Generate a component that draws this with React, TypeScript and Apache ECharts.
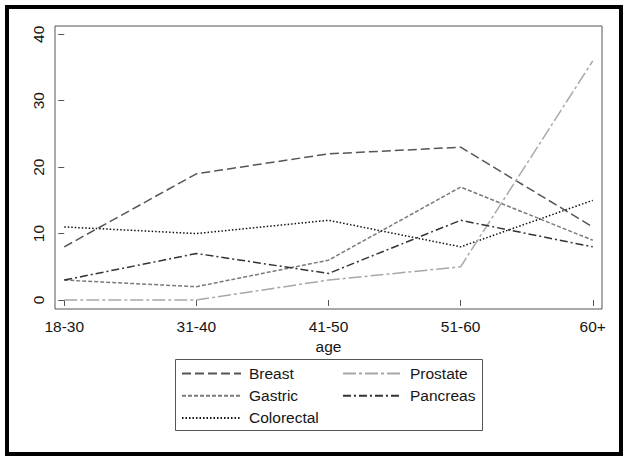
import React, { useEffect, useRef } from "react";
import * as echarts from "echarts";

const categories = ["18-30", "31-40", "41-50", "51-60", "60+"];
const breast = [8, 19, 22, 23, 11];
const gastric = [3, 2, 6, 17, 9];
const colorectal = [11, 10, 12, 8, 15];
const prostate = [0, 0, 3, 5, 36];
const pancreas = [3, 7, 4, 12, 8];
const yTicks = [0, 10, 20, 30, 40];
const xTicks = [0, 1, 2, 3, 4];

const FONT = "'Liberation Sans', Arial, sans-serif";
const TXT = "#161616";

export default function App() {
  const ref = useRef<HTMLDivElement>(null);
  useEffect(() => {
    if (!ref.current) return;
    const chart = echarts.init(ref.current, null, { renderer: "svg" });
    const mk = (name: string, vals: number[], color: string, dash: number[], width = 1.5) => ({
      name,
      type: "line",
      data: vals.map((v, i) => [i, v]),
      symbol: "none",
      showSymbol: false,
      lineStyle: { color, width, type: dash },
      itemStyle: { color },
    });
    const legendBase = {
      orient: "vertical",
      top: 365.5,
      padding: 0,
      itemWidth: 59,
      itemHeight: 14,
      itemGap: 6.2,
      selectedMode: false,
      itemStyle: { color: "transparent", borderColor: "transparent", borderWidth: 0 },
      textStyle: { fontSize: 15.5, color: TXT, fontFamily: FONT, padding: [0, 0, 0, 3] },
    };
    chart.setOption({
      animation: false,
      backgroundColor: "#ffffff",
      grid: {
        left: 55,
        top: 26,
        width: 547,
        height: 283,
        show: true,
        borderColor: "#555",
        borderWidth: 1,
        containLabel: false,
      },
      xAxis: {
        type: "value",
        min: -0.07,
        max: 4.07,
        name: "age",
        nameLocation: "middle",
        nameGap: 26,
        nameTextStyle: { fontSize: 15.5, color: TXT, fontFamily: FONT },
        axisLine: { show: false },
        splitLine: { show: false },
        axisTick: { show: true, length: 6, customValues: xTicks, lineStyle: { color: "#555" } },
        axisLabel: {
          customValues: xTicks,
          margin: 9,
          fontSize: 15.5,
          color: TXT,
          fontFamily: FONT,
          formatter: (v: number) => categories[Math.round(v)] ?? "",
        },
      },
      yAxis: {
        type: "value",
        min: -1.355,
        max: 41.25,
        axisLine: { show: false },
        splitLine: { show: false },
        axisTick: { show: true, length: 6, customValues: yTicks, lineStyle: { color: "#555" } },
        axisLabel: {
          customValues: yTicks,
          rotate: 90,
          margin: 9,
          fontSize: 15.5,
          color: TXT,
          fontFamily: FONT,
        },
      },
      legend: [
        { ...legendBase, data: ["Breast", "Gastric", "Colorectal"], left: 181 },
        { ...legendBase, data: ["Prostate", "Pancreas"], left: 342 },
      ],
      graphic: [
        {
          type: "rect",
          shape: { x: 7, y: 7, width: 614, height: 447 },
          style: { fill: "none", stroke: "#000", lineWidth: 4 },
          silent: true,
        },
        {
          type: "rect",
          shape: { x: 175.5, y: 359.5, width: 307, height: 71 },
          style: { fill: "none", stroke: "#555", lineWidth: 1 },
          silent: true,
        },
      ],
      series: [
        mk("Breast", breast, "#555555", [9, 4]),
        mk("Gastric", gastric, "#7a7a7a", [4, 2]),
        mk("Colorectal", colorectal, "#111111", [1.5, 2]),
        mk("Prostate", prostate, "#a8a8a8", [13, 3, 3, 3]),
        mk("Pancreas", pancreas, "#333333", [8, 3, 2, 3]),
      ],
    });
    return () => chart.dispose();
  }, []);
  return (
    <div
      ref={ref}
      style={{ position: "absolute", left: 0, top: 0, width: 629, height: 462 }}
    />
  );
}
